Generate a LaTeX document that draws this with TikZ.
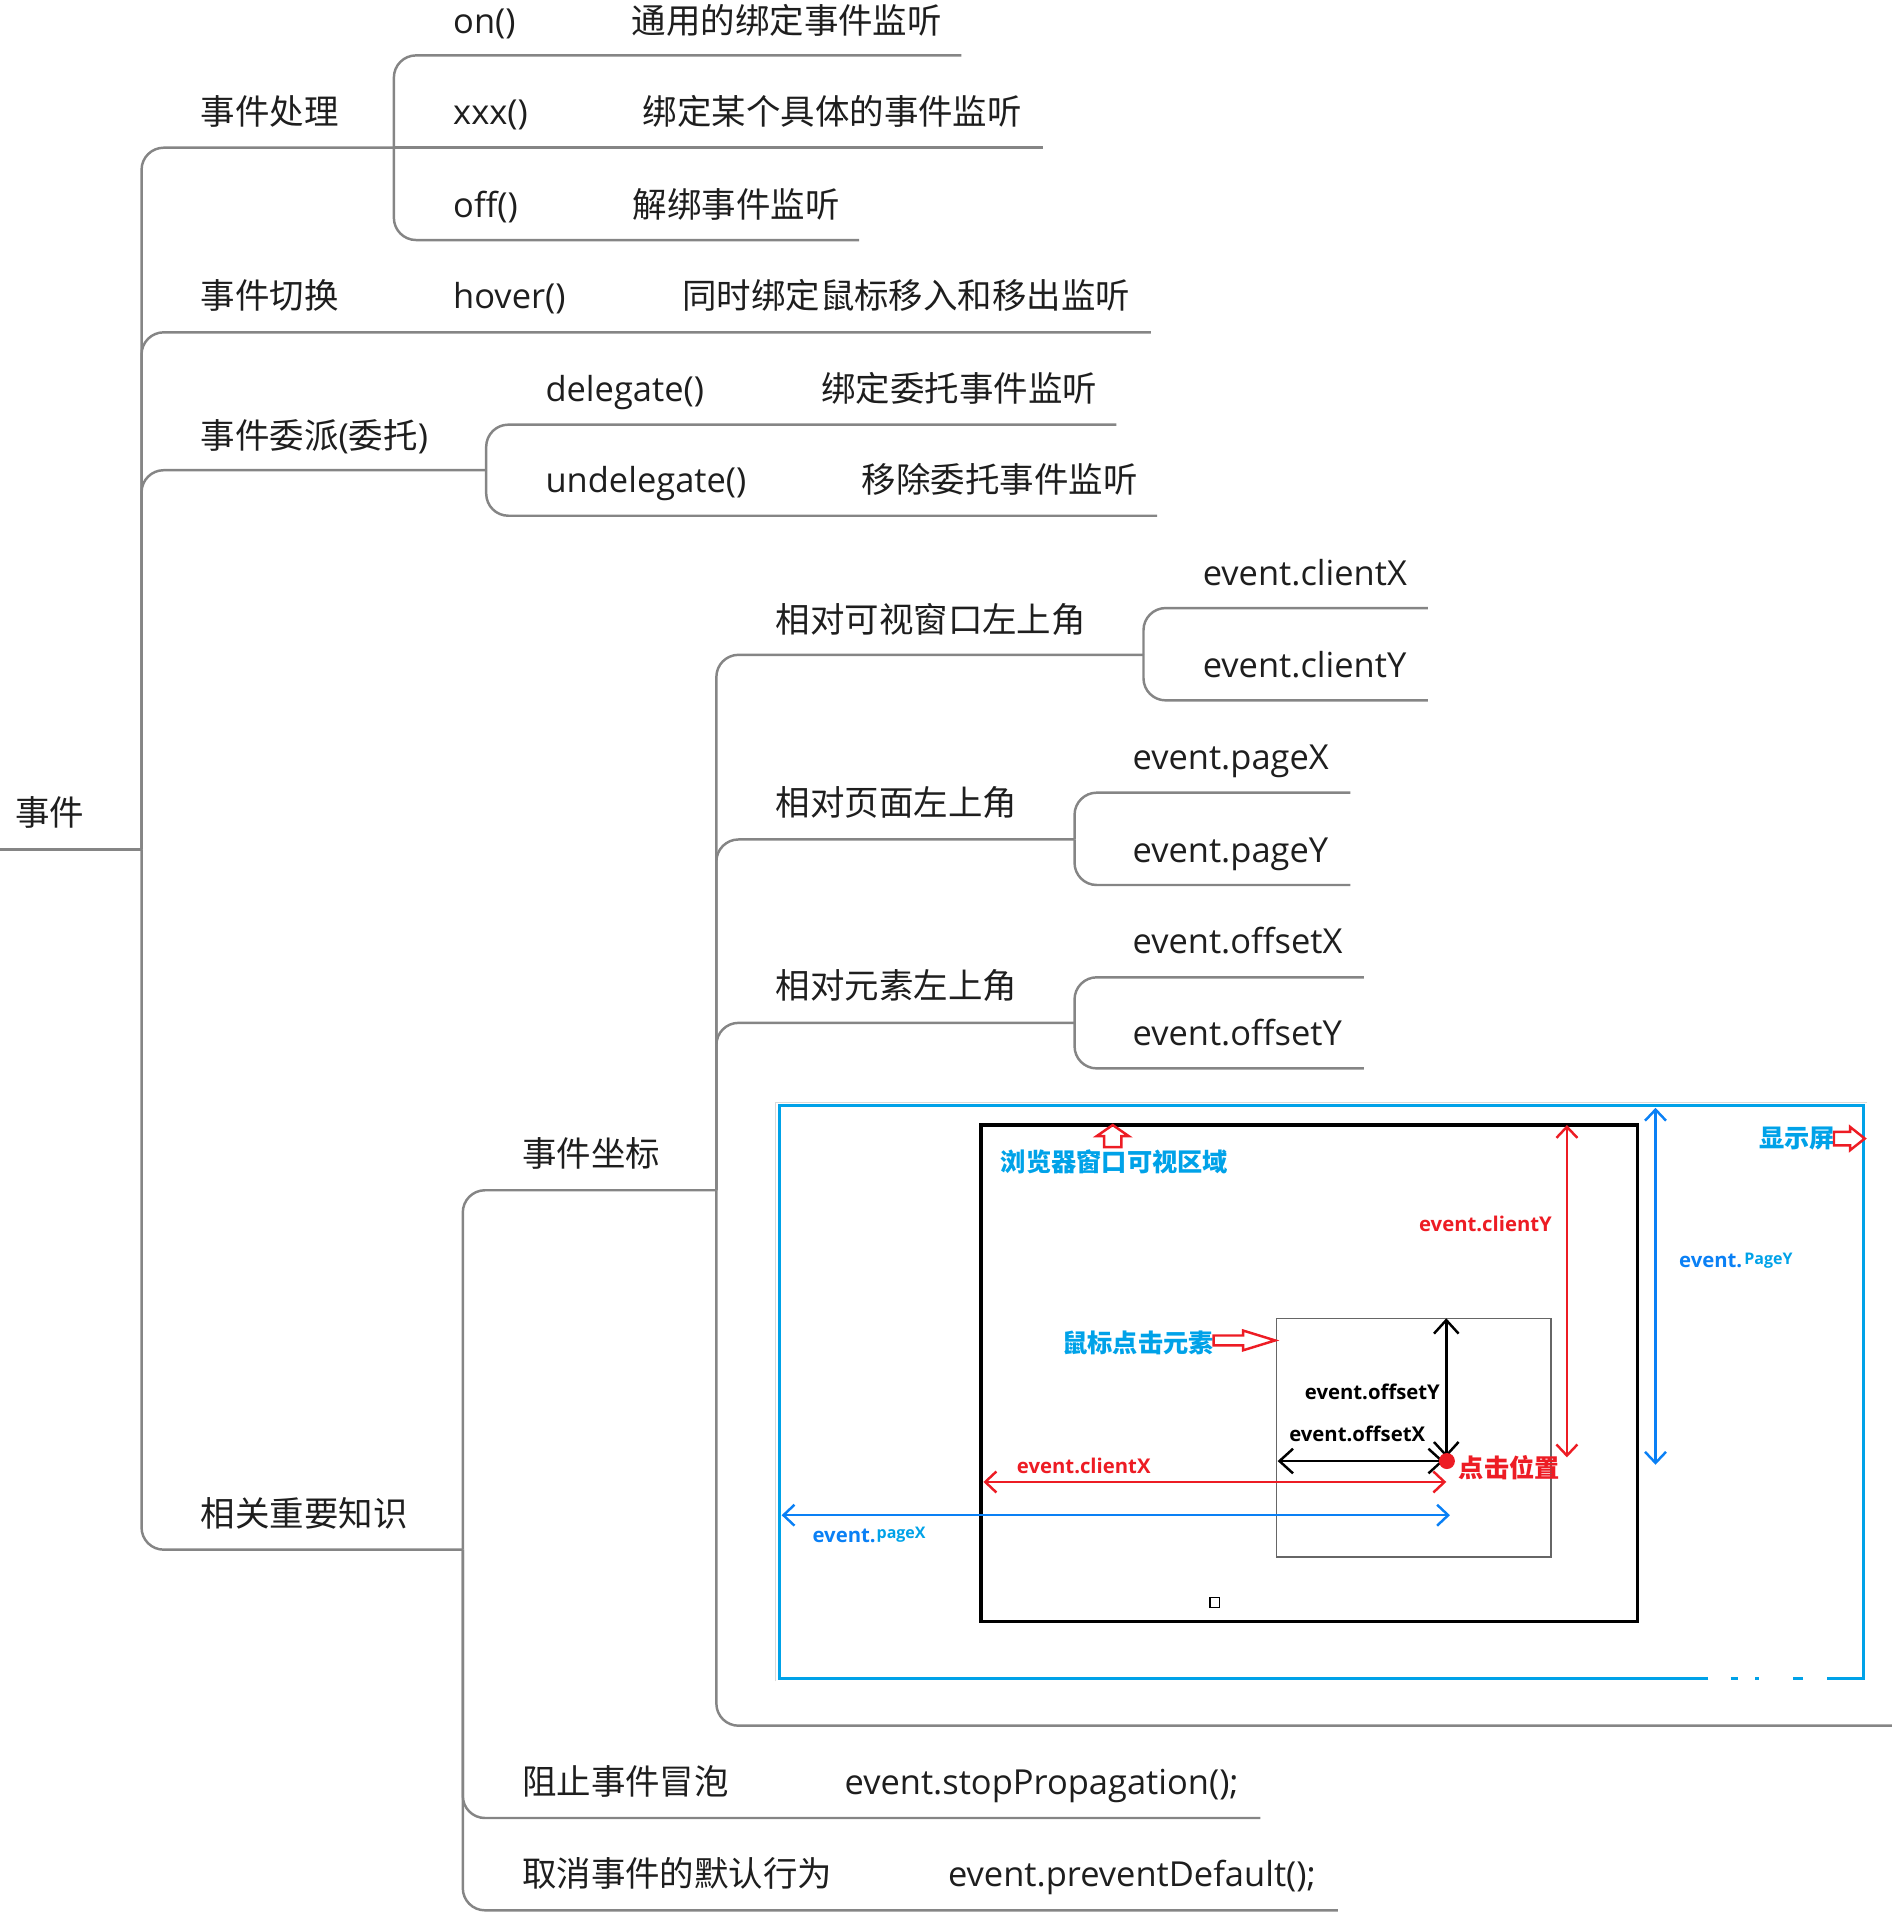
\documentclass[tikz,border=0pt]{standalone}
\usepackage{fontspec}
\setmainfont{Open Sans}
\newfontfamily\cjk{Noto Sans CJK SC}
\usepackage{xcolor}
\usetikzlibrary{arrows.meta}

\definecolor{linegray}{RGB}{133,133,133}
\definecolor{inkdark}{RGB}{30,30,30}
\definecolor{scrblue}{RGB}{0,162,232}
\definecolor{arrblue}{RGB}{10,128,245}
\definecolor{scrred}{RGB}{237,28,36}

\begin{document}
\begin{tikzpicture}[
        x=1pt, y=-1pt,
        font=\fontsize{28}{32}\selectfont,
        branch/.style  ={draw=linegray, line width=2pt, rounded corners=18pt},
        topic/.style   ={anchor=west, inner sep=0pt, text height=24pt,
                         text depth=3pt, text=inkdark},
        shotcn/.style  ={inner sep=0pt, anchor=west,
                         font=\cjk\bfseries\fontsize{20.5}{24}\selectfont},
        shotlat/.style ={inner sep=0pt, font=\bfseries\fontsize{16.5}{20}\selectfont},
        hollow/.style  ={draw=scrred, line width=2pt, line join=miter},
        dbl/.style     ={{Straight Barb[length=9pt,width=17pt]}-{Straight Barb[length=9pt,width=17pt]},
                         line width=2pt}
    ]
      \useasboundingbox (0,0) rectangle (1545,1568);

      % ===== ROOT =====
      \node[topic] (root) at (12,660) {\cjk 事件};
      \coordinate (root-end) at (0,690);
      \coordinate (hub)      at (115,690);
      \draw[branch] (root-end) -- (hub);

      % ===== 事件处理 =====
      \node[topic] (handle) at (163,91) {\cjk 事件处理};
      \coordinate (handle-j) at (320,120);
      \draw[branch] (hub) |- (handle-j);
      \node[topic] (on)    at (368,17)  {on()};
      \node[topic] (on-d)  at (513,17)  {\cjk 通用的绑定事件监听};
      \node[topic] (xxx)   at (368,91)  {xxx()};
      \node[topic] (xxx-d) at (522,91)  {\cjk 绑定某个具体的事件监听};
      \node[topic] (off)   at (368,166) {off()};
      \node[topic] (off-d) at (514,166) {\cjk 解绑事件监听};
      \coordinate (on-e)  at (781,45);
      \coordinate (xxx-e) at (847,120);
      \coordinate (off-e) at (698,195);
      \draw[branch] (handle-j) |- (on-e);
      \draw[branch] (handle-j) -- (xxx-e);
      \draw[branch] (handle-j) |- (off-e);

      % ===== 事件切换 =====
      \node[topic] (toggle)   at (163,240) {\cjk 事件切换};
      \node[topic] (hover)    at (368,240) {hover()};
      \node[topic] (hover-d)  at (554,240) {\cjk 同时绑定鼠标移入和移出监听};
      \coordinate (toggle-e) at (935,270);
      \draw[branch] (hub) |- (toggle-e);

      % ===== 事件委派 =====
      \node[topic] (deleg) at (163,354) {{\cjk 事件委派}({\cjk 委托})};
      \coordinate (deleg-j) at (395,382);
      \draw[branch] (hub) |- (deleg-j);
      \node[topic] (dg)    at (443,316) {delegate()};
      \node[topic] (dg-d)  at (667,316) {\cjk 绑定委托事件监听};
      \node[topic] (udg)   at (443,390) {undelegate()};
      \node[topic] (udg-d) at (700,390) {\cjk 移除委托事件监听};
      \coordinate (dg-e)  at (907,345);
      \coordinate (udg-e) at (940,419);
      \draw[branch] (deleg-j) |- (dg-e);
      \draw[branch] (deleg-j) |- (udg-e);

      % ===== 相关重要知识 =====
      \node[topic] (know) at (163,1230) {\cjk 相关重要知识};
      \coordinate (know-j) at (376,1259);
      \draw[branch] (hub) |- (know-j);

      % 事件坐标
      \node[topic] (coord) at (424,937) {\cjk 事件坐标};
      \coordinate (coord-j) at (582,967);
      \draw[branch] (know-j) |- (coord-j);

      \node[topic] (client) at (630,503) {\cjk 相对可视窗口左上角};
      \node[topic] (cx)     at (977,465) {event.clientX};
      \node[topic] (cy)     at (977,540) {event.clientY};
      \coordinate (client-j) at (929,532);
      \coordinate (cx-e) at (1160,494);
      \coordinate (cy-e) at (1160,569);
      \draw[branch] (coord-j) |- (client-j);
      \draw[branch] (client-j) |- (cx-e);
      \draw[branch] (client-j) |- (cy-e);

      \node[topic] (page) at (630,652) {\cjk 相对页面左上角};
      \node[topic] (px)   at (920,615) {event.pageX};
      \node[topic] (py)   at (920,690) {event.pageY};
      \coordinate (page-j) at (873,682);
      \coordinate (px-e) at (1097,644);
      \coordinate (py-e) at (1097,719);
      \draw[branch] (coord-j) |- (page-j);
      \draw[branch] (page-j) |- (px-e);
      \draw[branch] (page-j) |- (py-e);

      \node[topic] (elem) at (630,801) {\cjk 相对元素左上角};
      \node[topic] (ox)   at (920,764) {event.offsetX};
      \node[topic] (oy)   at (920,839) {event.offsetY};
      \coordinate (elem-j) at (873,831);
      \coordinate (ox-e) at (1108,794);
      \coordinate (oy-e) at (1108,868);
      \draw[branch] (coord-j) |- (elem-j);
      \draw[branch] (elem-j) |- (ox-e);
      \draw[branch] (elem-j) |- (oy-e);

      \coordinate (shot-e) at (1537,1402);
      \draw[branch] (coord-j) |- (shot-e);

      % 阻止冒泡 / 默认行为
      \node[topic] (stop)   at (424,1447) {\cjk 阻止事件冒泡};
      \node[topic] (stop-d) at (686,1447) {event.stopPropagation();};
      \node[topic] (prev)   at (424,1522) {\cjk 取消事件的默认行为};
      \node[topic] (prev-d) at (770,1522) {event.preventDefault();};
      \coordinate (stop-e) at (1024,1477);
      \coordinate (prev-e) at (1087,1552);
      \draw[branch] (know-j) |- (stop-e);
      \draw[branch] (know-j) |- (prev-e);

      % ===== SCREENSHOT =====
      \draw[gray!30, line width=1pt] (630,1366) -- (630,896) -- (1517,896);
      \draw[scrblue, line width=2.5pt] (1388,1364) -- (633,1364) -- (633,898.5)
            -- (1514,898.5) -- (1514,1364) -- (1484,1364);
      \foreach \a/\b in {1406/1412, 1426/1429, 1457/1465}
        \draw[scrblue, line width=2.5pt] (\a,1364) -- (\b,1364);
      \draw[line width=2.5pt] (797,914) rectangle (1330,1317);
      \draw[black!60, line width=1.2pt] (1037,1071) rectangle (1260,1265);
      \draw[line width=1pt] (983,1298) rectangle (991,1306);

      \coordinate (click) at (1175.5,1187);

      \node[shotcn, text=scrblue] (vp-lbl)  at (813,944)  {浏览器窗口可视区域};
      \node[shotcn, text=scrblue] (el-lbl)  at (863,1091) {鼠标点击元素};
      \node[shotcn, text=scrblue] (scr-lbl) at (1429,925) {显示屏};
      \node[shotcn, text=scrred]  (pt-lbl)  at (1185,1192) {点击位置};

      % hollow pointers
      \draw[hollow] (904,914) -- (917,923) -- (911,923) -- (911,932)
            -- (897,932) -- (897,923) -- (891,923) -- cycle;
      \draw[hollow] (986,1085) -- (1010,1085) -- (1010,1081) -- (1036,1089)
            -- (1010,1097) -- (1010,1093) -- (986,1093) -- cycle;
      \draw[hollow] (1490,919.5) -- (1503,919.5) -- (1503,915.5) -- (1515,925)
            -- (1503,934.5) -- (1503,930.5) -- (1490,930.5) -- cycle;

      % measures
      \draw[dbl, scrred]  (1273,914) -- (1273,1184);
      \draw[dbl, arrblue] (1345,900) -- (1345,1190);
      \draw[dbl, scrred]  (799,1204) -- (1175,1204);
      \draw[dbl, arrblue] (635,1231) -- (1178,1231);
      \draw[dbl, {Straight Barb[length=11pt,width=20pt]}-{Straight Barb[length=11pt,width=20pt]}]
            (1175,1071) -- (1175,1184);
      \draw[dbl, {Straight Barb[length=11pt,width=20pt]}-{Straight Barb[length=11pt,width=20pt]}]
            (1038,1187) -- (1173,1187);
      \fill[scrred] (click) circle (6.5);

      \node[shotlat, text=scrred, anchor=east] (cy-lbl) at (1261,994)  {event.clientY};
      \node[shotlat, text=scrred, anchor=west] (cx-lbl) at (826,1191)  {event.clientX};
      \node[shotlat, anchor=east] (oy-lbl) at (1170,1131) {event.offsetY};
      \node[shotlat, anchor=east] (ox-lbl) at (1158,1165) {event.offsetX};
      \node[shotlat, text=arrblue, anchor=base west] (px-a) at (660,1253) {event.};
      \node[shotlat, text=scrblue, anchor=base west, font=\bfseries\fontsize{13}{16}\selectfont]
            (px-b) at (712,1250) {pageX};
      \node[shotlat, text=arrblue, anchor=base west] (py-a) at (1364,1030) {event.};
      \node[shotlat, text=scrblue, anchor=base west, font=\bfseries\fontsize{13}{16}\selectfont]
            (py-b) at (1417,1027) {PageY};
    \end{tikzpicture}
\end{document}
